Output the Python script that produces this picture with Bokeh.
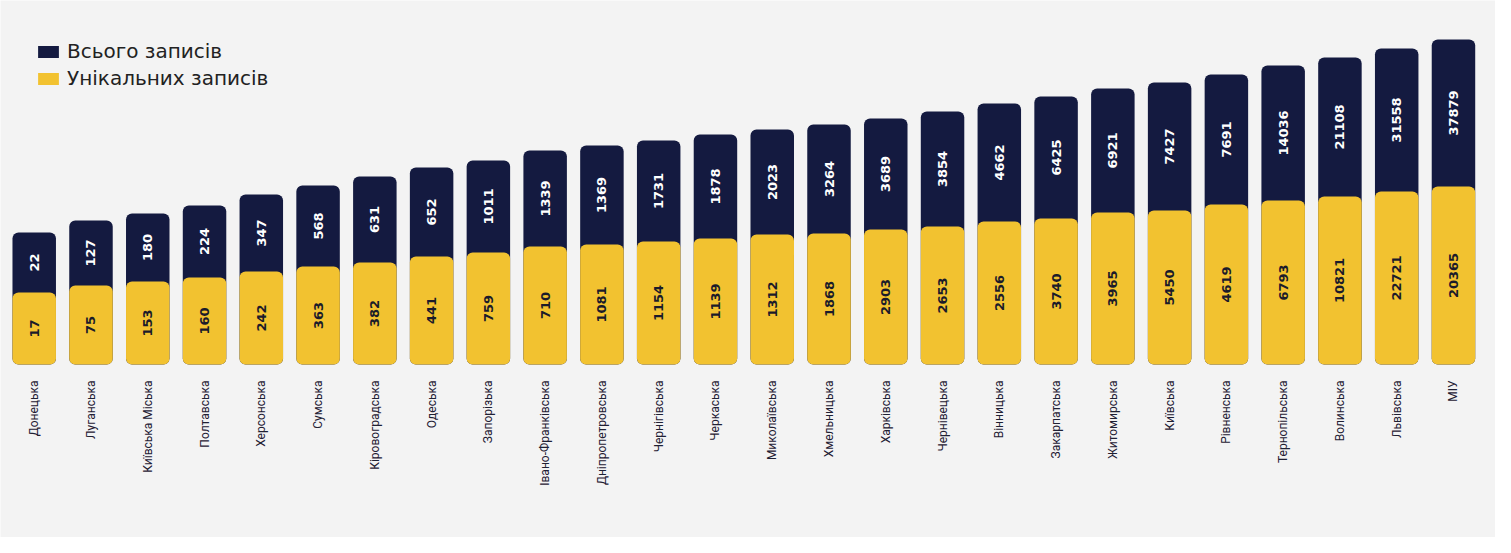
from bokeh.plotting import figure
from bokeh.models import ColumnDataSource, Range1d, Legend, LegendItem
from bokeh.core.properties import value
from bokeh.embed import file_html
from bokeh.resources import INLINE
import math

regions = ["Донецька", "Луганська", "Київська Міська", "Полтавська", "Херсонська",
           "Сумська", "Кіровоградська", "Одеська", "Запорізька", "Івано-Франківська",
           "Дніпропетровська", "Чернігівська", "Черкаська", "Миколаївська", "Хмельницька",
           "Харківська", "Чернівецька", "Вінницька", "Закарпатська", "Житомирська",
           "Київська", "Рівненська", "Тернопільська", "Волинська", "Львівська", "МІУ"]
total = [22, 127, 180, 224, 347, 568, 631, 652, 1011, 1339, 1369, 1731, 1878, 2023,
         3264, 3689, 3854, 4662, 6425, 6921, 7427, 7691, 14036, 21108, 31558, 37879]
unique = [17, 75, 153, 160, 242, 363, 382, 441, 759, 710, 1081, 1154, 1139, 1312,
          1868, 2903, 2653, 2556, 3740, 3965, 5450, 4619, 6793, 10821, 22721, 20365]
# bar heights as drawn in the infographic (display units, not proportional to values)
total_h = [132, 144, 151, 159, 170, 179, 188, 197, 204, 214, 219, 224, 230, 235,
           240, 246, 253, 261, 268, 276, 282, 290, 299, 307, 316, 325]
unique_h = [72, 79, 83, 87, 93, 98, 102, 108, 112, 118, 120, 123, 126, 130,
            131, 135, 138, 143, 146, 152, 154, 160, 164, 168, 173, 178]

NAVY = "#141a40"
YELLOW = "#f2c230"
BG = "#f3f3f3"

idx = list(range(len(regions)))
src = ColumnDataSource(dict(
    x=idx, region=regions,
    total=[str(v) for v in total], unique=[str(v) for v in unique],
    th=total_h, uh=unique_h,
    ty=[(a + b) / 2 for a, b in zip(total_h, unique_h)],
    uy=[b / 2 for b in unique_h],
    ly=[-16] * len(regions),
))

W, H = 1495, 537
p = figure(width=W, height=H, output_backend="svg", toolbar_location=None,
           x_range=Range1d(-0.594, -0.594 + W / 56.77), y_range=Range1d(-173, 364),
           min_border=0, background_fill_color=BG, border_fill_color=BG,
           outline_line_color=None)
p.axis.visible = False
p.grid.visible = False

r_tot = p.vbar(x="x", top="th", bottom=0, width=0.766, source=src,
               fill_color=NAVY, line_color=None, border_radius=6)
r_uni = p.vbar(x="x", top="uh", bottom=0, width=0.766, source=src,
               fill_color=YELLOW, line_color=None, border_radius=6)

p.text(x="x", y="ty", text="total", source=src, angle=math.pi / 2,
       text_align="center", text_baseline="middle", text_color="#ffffff",
       text_font=value("DejaVu Sans"), text_font_style="bold", text_font_size="13px")
p.text(x="x", y="uy", text="unique", source=src, angle=math.pi / 2,
       text_align="center", text_baseline="middle", text_color="#1b1b2a",
       text_font=value("DejaVu Sans"), text_font_style="bold", text_font_size="13px")
p.text(x="x", y="ly", text="region", source=src, angle=math.pi / 2,
       text_align="right", text_baseline="middle", text_color="#1f2033",
       text_font=value("Roboto"), text_font_size="12px")

legend = Legend(items=[LegendItem(label="Всього записів", renderers=[r_tot]),
                       LegendItem(label="Унікальних записів", renderers=[r_uni])],
                location=(35, H - 49 - 41), orientation="vertical",
                glyph_width=26, glyph_height=15, label_standoff=6, spacing=3,
                padding=0, margin=0, background_fill_alpha=0, border_line_alpha=0,
                label_text_font="DejaVu Sans", label_text_font_size="20px",
                label_text_color="#222222", label_height=15)
p.add_layout(legend)

open("out.html", "w").write(file_html(p, INLINE))
